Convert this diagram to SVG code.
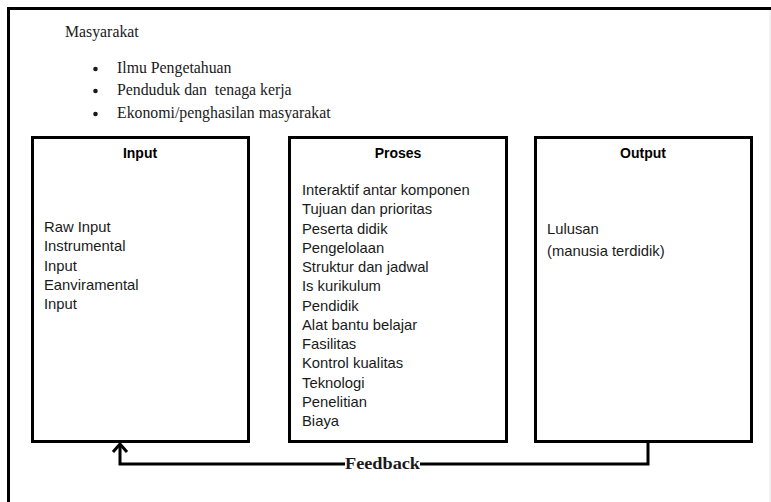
<svg xmlns="http://www.w3.org/2000/svg" width="771" height="502" viewBox="0 0 771 502">
<defs>
<style>
.serif{font-family:"Liberation Serif","Times New Roman",serif;font-size:15.8px;fill:#1a1a1a}
.sans{font-family:"Liberation Sans",Arial,sans-serif;font-size:14.8px;fill:#1a1a1a}
.title{font-family:"Liberation Sans",Arial,sans-serif;font-size:14px;font-weight:bold;fill:#000;text-anchor:middle}
.box{fill:#fff;stroke:#000;stroke-width:3}
.conn{fill:none;stroke:#000;stroke-width:3}
</style>
</defs>
<rect x="0" y="0" width="771" height="502" fill="#fff"/>
<g id="frame">
<path d="M8.5,502 V8.5 H771" fill="none" stroke="#000" stroke-width="3"/>
<line x1="770" y1="10" x2="770" y2="502" stroke="#e6e6e6" stroke-width="1"/>
</g>
<g id="masyarakat">
<text class="serif" x="65" y="37">Masyarakat</text>
<circle cx="95.5" cy="69" r="2.3" fill="#1a1a1a"/>
<circle cx="95.5" cy="91" r="2.3" fill="#1a1a1a"/>
<circle cx="95.5" cy="114" r="2.3" fill="#1a1a1a"/>
<text class="serif" x="117" y="73">Ilmu Pengetahuan</text>
<text class="serif" x="117" y="95" xml:space="preserve">Penduduk dan  tenaga kerja</text>
<text class="serif" x="117" y="118">Ekonomi/penghasilan masyarakat</text>
</g>
<g id="input">
<rect class="box" x="32.5" y="137.5" width="216" height="304"/>
<text class="title" x="140" y="158">Input</text>
<text class="sans" x="44" y="232">Raw Input</text>
<text class="sans" x="44" y="251">Instrumental</text>
<text class="sans" x="44" y="271">Input</text>
<text class="sans" x="44" y="290">Eanviramental</text>
<text class="sans" x="44" y="309">Input</text>
</g>
<g id="proses">
<rect class="box" x="289.5" y="137.5" width="217" height="304"/>
<text class="title" x="398" y="158">Proses</text>
<text class="sans" x="302" y="195">Interaktif antar komponen</text>
<text class="sans" x="302" y="214">Tujuan dan prioritas</text>
<text class="sans" x="302" y="234">Peserta didik</text>
<text class="sans" x="302" y="253">Pengelolaan</text>
<text class="sans" x="302" y="272">Struktur dan jadwal</text>
<text class="sans" x="302" y="291">Is kurikulum</text>
<text class="sans" x="302" y="311">Pendidik</text>
<text class="sans" x="302" y="330">Alat bantu belajar</text>
<text class="sans" x="302" y="349">Fasilitas</text>
<text class="sans" x="302" y="368">Kontrol kualitas</text>
<text class="sans" x="302" y="388">Teknologi</text>
<text class="sans" x="302" y="407">Penelitian</text>
<text class="sans" x="302" y="426">Biaya</text>
</g>
<g id="output">
<rect class="box" x="535.5" y="137.5" width="216" height="304"/>
<text class="title" x="643" y="158">Output</text>
<text class="sans" x="547" y="234">Lulusan</text>
<text class="sans" x="547" y="256">(manusia terdidik)</text>
</g>
<g id="connectors">
<path class="conn" d="M648,443 V464 H420"/>
<path class="conn" d="M345,464 H120 V445"/>
<path class="conn" d="M113,452 L120,444 L127,452" stroke-linejoin="miter"/>
<text x="345" y="469" textLength="75" lengthAdjust="spacingAndGlyphs" style="font-family:'Liberation Serif','Times New Roman',serif;font-size:16px;font-weight:bold;fill:#1a1a1a">Feedback</text>
</g>
</svg>
